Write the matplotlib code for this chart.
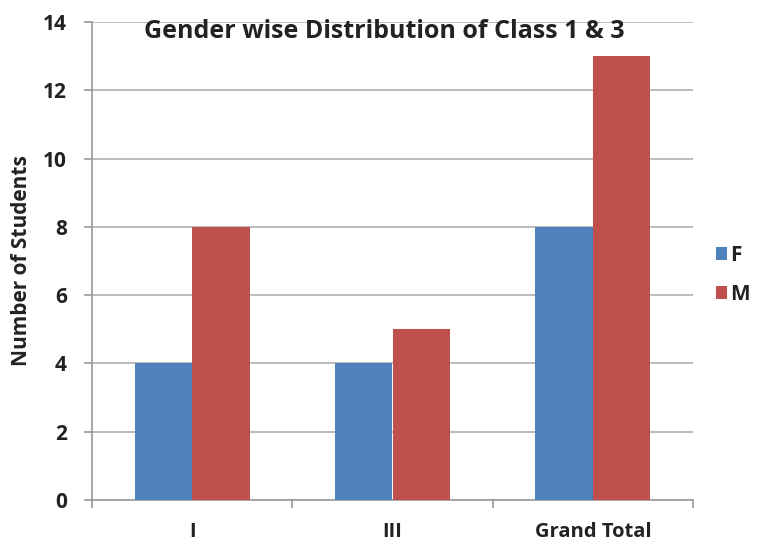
import matplotlib.pyplot as plt
import numpy as np

categories = ["I", "III", "Grand Total"]
female = [4, 4, 8]
male = [8, 5, 13]
yticks = [0, 2, 4, 6, 8, 10, 12, 14]

plt.rcParams['font.family'] = ['Open Sans', 'DejaVu Sans']

fig = plt.figure(figsize=(7.63, 5.44), dpi=100)
ax = fig.add_axes([92 / 763, 1 - 500 / 544, 601 / 763, 478 / 544])

x = np.arange(len(categories))
w = 0.2875
ax.bar(x - w / 2, female, w, color="#4F81BD", label="F", zorder=3)
ax.bar(x + w / 2, male, w, color="#C0504D", label="M", zorder=3)

ax.set_xlim(-0.5, len(categories) - 0.5)
ax.set_ylim(0, 14)
ax.set_yticks(yticks)
ax.set_yticklabels([str(v) for v in yticks], fontsize=15, fontweight="bold", color="#222222")
ax.yaxis.grid(True, color="#b0b0b0", linewidth=1.2, zorder=0)

# category labels in the middle, tick marks on the boundaries
ax.set_xticks(x)
ax.set_xticklabels(categories, fontsize=14.5, fontweight="bold", color="#222222")
ax.tick_params(axis="x", length=0, pad=16)
ax.set_xticks(np.arange(len(categories) + 1) - 0.5, minor=True)
ax.tick_params(axis="x", which="minor", length=6, color="#999999", width=1.2)
ax.tick_params(axis="y", length=6, color="#999999", width=1.2, pad=12)

for s in ["top", "right"]:
    ax.spines[s].set_visible(False)
ax.spines["left"].set_color("#999999")
ax.spines["bottom"].set_color("#999999")
ax.spines["left"].set_linewidth(1.2)
ax.spines["bottom"].set_linewidth(1.2)

ax.set_ylabel("Number of Students", fontsize=15, fontweight="bold", color="#222222", labelpad=8)
ax.text(0.486, 0.9665, "Gender wise Distribution of Class 1 & 3", transform=ax.transAxes,
        ha="center", va="baseline", fontsize=18, fontweight="bold", color="#222222")

fig.legend(loc="center left", bbox_to_anchor=(716 / 763, 1 - 275 / 544), frameon=False,
           borderaxespad=0, borderpad=0,
           prop={"size": 15, "weight": "bold"}, handlelength=0.55, handleheight=0.55,
           handletextpad=0.15, labelspacing=0.85, labelcolor="#222222")

fig.savefig("out.png", dpi=100)
